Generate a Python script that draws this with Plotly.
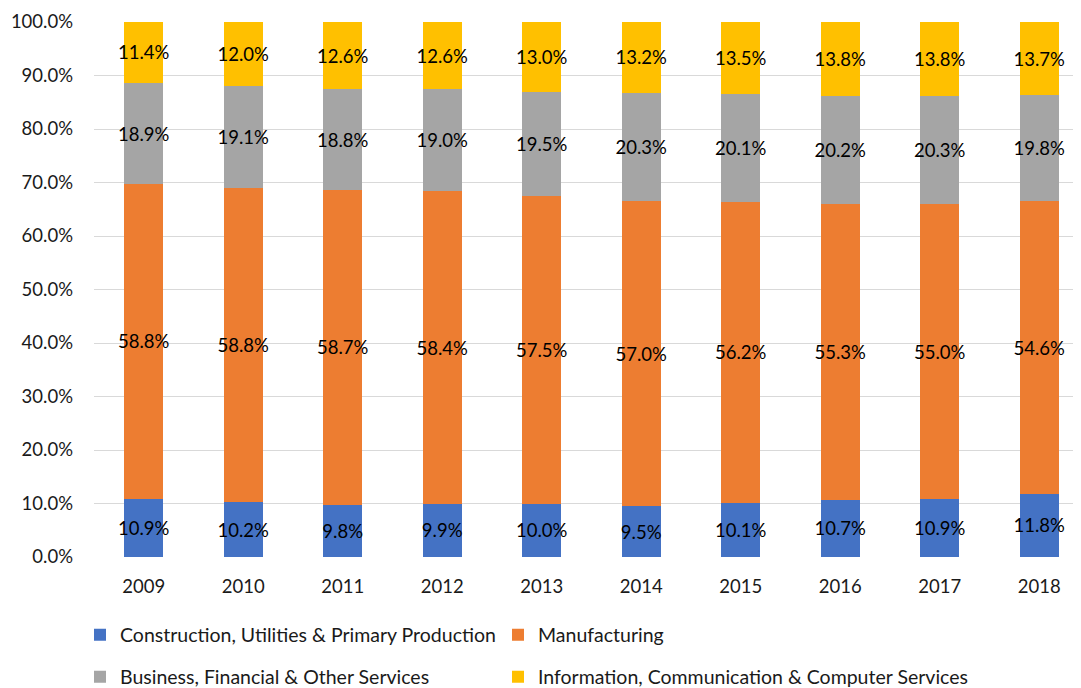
import plotly.graph_objects as go

years = ["2009", "2010", "2011", "2012", "2013", "2014", "2015", "2016", "2017", "2018"]
construction = [10.9, 10.2, 9.8, 9.9, 10.0, 9.5, 10.1, 10.7, 10.9, 11.8]
manufacturing = [58.8, 58.8, 58.7, 58.4, 57.5, 57.0, 56.2, 55.3, 55.0, 54.6]
business = [18.9, 19.1, 18.8, 19.0, 19.5, 20.3, 20.1, 20.2, 20.3, 19.8]
information = [11.4, 12.0, 12.6, 12.6, 13.0, 13.2, 13.5, 13.8, 13.8, 13.7]

series = [
    ("Construction, Utilities & Primary Production", construction, "#4472C4", "legend"),
    ("Manufacturing", manufacturing, "#ED7D31", "legend2"),
    ("Business, Financial & Other Services", business, "#A5A5A5", "legend3"),
    ("Information, Communication & Computer Services", information, "#FFC000", "legend4"),
]

FONT = "Lato"
FS = 18.5
LFS = 19.5
ML, MT, MB = 86, 14, 139
W, H = 1081, 688
PW, PH = W - ML, H - MT - MB

fig = go.Figure()
for name, vals, color, leg in series:
    fig.add_trace(go.Bar(
        x=years, y=vals, name=name,
        marker=dict(color=color, line=dict(width=0)),
        width=0.395,
        text=[f"{v:.1f}%" for v in vals],
        textposition="inside", insidetextanchor="middle",
        textangle=0, constraintext="none",
        textfont=dict(family=FONT, size=FS, color="#000000"),
        legend=leg, showlegend=True, hoverinfo="skip",
    ))

def leg(xpx, ypx):
    return dict(orientation="h", x=(xpx - ML) / PW, xanchor="left",
                y=((H - MB) - ypx) / PH, yanchor="middle",
                font=dict(size=LFS, color="#1a1a1a"), itemclick=False,
                bgcolor="rgba(0,0,0,0)", visible=True)

fig.update_layout(
    barmode="stack", barnorm="percent",
    width=W, height=H, showlegend=True,
    margin=dict(l=ML, r=0, t=MT, b=MB, autoexpand=False),
    paper_bgcolor="white", plot_bgcolor="white",
    font=dict(family=FONT, size=FS, color="#1a1a1a"),
    xaxis=dict(range=[-0.5, 9.5], showgrid=False, showline=False, zeroline=False,
               ticks="", ticklabelstandoff=16, tickfont=dict(size=FS), automargin=False),
    yaxis=dict(range=[0, 100], dtick=10, tickformat=".1f", ticksuffix="%",
               showgrid=True, gridcolor="#D9D9D9", gridwidth=1.3, zeroline=False,
               showline=False, ticks="", ticklabelstandoff=20, tickfont=dict(size=FS),
               automargin=False),
    legend=leg(72, 627),
    legend2=leg(490, 627),
    legend3=leg(72, 669),
    legend4=leg(490, 669),
)
fig.write_html("out.html")
